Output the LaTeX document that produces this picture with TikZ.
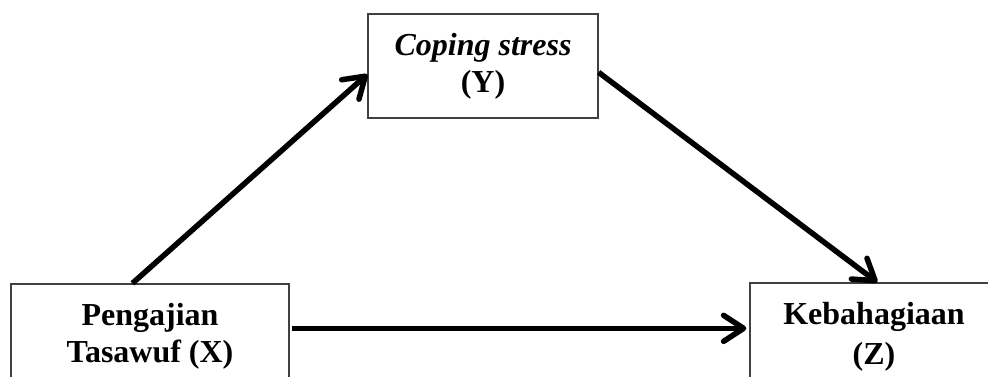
\documentclass[tikz,border=0pt]{standalone}
\usepackage{fontspec}
\setmainfont{Liberation Serif}
\usetikzlibrary{arrows.meta,calc}
\begin{document}
\begin{tikzpicture}[x=1pt,y=-1pt,
  box/.style={draw=black!75,line width=1.3pt,rectangle,inner sep=0pt},
  lbl/.style={align=center,font=\fontsize{32}{37}\selectfont\bfseries,inner sep=0pt},
  conn/.style={line width=5.5pt,-{Straight Barb[length=20pt,width=26pt,round]}}]
\clip (0,0) rectangle (988,376);
\node[box,minimum width=230pt,minimum height=104pt] (Y) at (483,66) {};
\node[box,minimum width=278pt,minimum height=140pt] (X) at (150,354) {};
\node[box,minimum width=250pt,minimum height=140pt] (Z) at (875,353) {};
\node[lbl] (Yt) at (483,66) {\textit{Coping stress}\\(Y)};
\node[lbl] (Xt) at (150,336) {Pengajian\\Tasawuf (X)};
\node[lbl] (Zt) at (874,337) {Kebahagiaan\\[3pt](Z)};
\draw[conn] ([xshift=122pt]X.north west) -- ([yshift=-61pt]Y.north west);
\draw[conn] ([yshift=-59pt]Y.north east) -- ([xshift=128pt]Z.north west);
\draw[conn] ([xshift=2pt,yshift=-45pt]X.north east) -- ([xshift=-3pt,yshift=-46pt]Z.north west);
\end{tikzpicture}
\end{document}
